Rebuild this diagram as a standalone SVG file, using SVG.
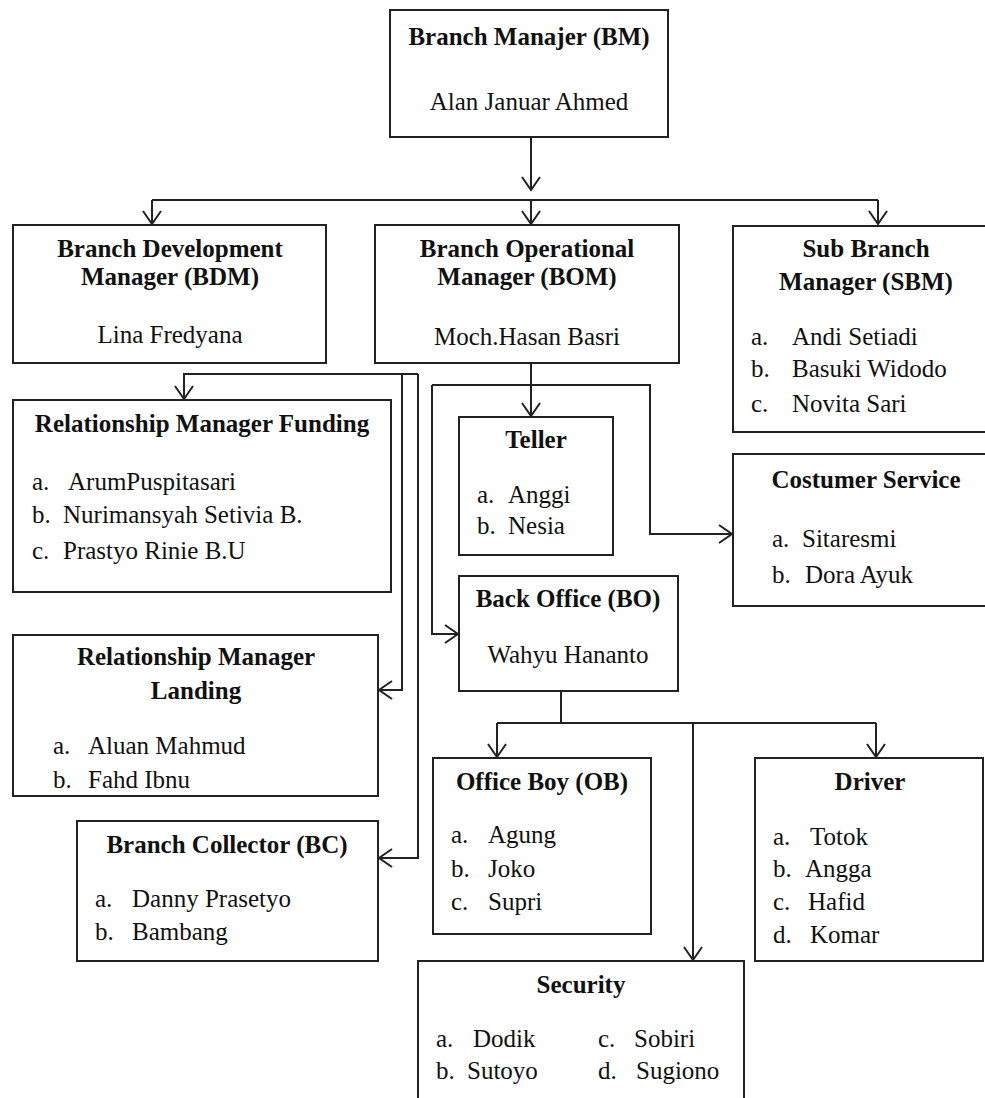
<svg xmlns="http://www.w3.org/2000/svg" width="985" height="1098" viewBox="0 0 985 1098">
<style>
.box{fill:#fff;stroke:#222;stroke-width:2}
.t{font-family:"Liberation Serif","Times New Roman",serif;font-size:25px;font-weight:bold;fill:#111;text-anchor:middle}
.n{font-family:"Liberation Serif","Times New Roman",serif;font-size:25px;fill:#111}
.c{text-anchor:middle}
.ln{fill:none;stroke:#222;stroke-width:2}
.ar{marker-end:url(#ah)}
</style>
<defs>
<marker id="ah" viewBox="-16 -11 18 22" markerWidth="18" markerHeight="22" refX="0" refY="0" orient="auto" markerUnits="userSpaceOnUse">
<path d="M-13,-9 L0,0 L-13,9" fill="none" stroke="#222" stroke-width="2"/>
</marker>
</defs>
<rect width="985" height="1098" fill="#fff"/>
<g id="connectors">
<path class="ln ar" d="M531,137 V190"/>
<path class="ln" d="M152,200 H878"/>
<path class="ln ar" d="M152,200 V224"/>
<path class="ln ar" d="M531,200 V224"/>
<path class="ln ar" d="M878,200 V224"/>
<path class="ln ar" d="M418,374 H184 V399"/>
<path class="ln ar" d="M418,374 V858 H379"/>
<path class="ln ar" d="M402,374 V690 H379"/>
<path class="ln ar" d="M531,363 V416"/>
<path class="ln ar" d="M432,385 H650 V534 H732"/>
<path class="ln ar" d="M432,385 V634 H458"/>
<path class="ln" d="M561,691 V723"/>
<path class="ln" d="M497,723 H876"/>
<path class="ln ar" d="M497,723 V757"/>
<path class="ln ar" d="M876,723 V757"/>
<path class="ln ar" d="M693,723 V960"/>
</g>
<g id="bm">
<rect class="box" x="390" y="10" width="278" height="127"/>
<text class="t" x="529" y="45">Branch Manajer (BM)</text>
<text class="n c" x="529" y="110">Alan Januar Ahmed</text>
</g>
<g id="bdm">
<rect class="box" x="13" y="225" width="313" height="138"/>
<text class="t" x="170" y="257">Branch Development</text>
<text class="t" x="170" y="285">Manager (BDM)</text>
<text class="n c" x="170" y="343">Lina Fredyana</text>
</g>
<g id="bom">
<rect class="box" x="375" y="225" width="304" height="138"/>
<text class="t" x="527" y="257">Branch Operational</text>
<text class="t" x="527" y="285">Manager (BOM)</text>
<text class="n c" x="527" y="345">Moch.Hasan Basri</text>
</g>
<g id="sbm">
<rect class="box" x="733" y="226" width="270" height="206"/>
<text class="t" x="866" y="257">Sub Branch</text>
<text class="t" x="866" y="290">Manager (SBM)</text>
<text class="n" x="751" y="345">a.</text><text class="n" x="792" y="345">Andi Setiadi</text>
<text class="n" x="751" y="377">b.</text><text class="n" x="792" y="377">Basuki Widodo</text>
<text class="n" x="751" y="412">c.</text><text class="n" x="792" y="412">Novita Sari</text>
</g>
<g id="rmf">
<rect class="box" x="13" y="400" width="378" height="192"/>
<text class="t" x="202" y="432">Relationship Manager Funding</text>
<text class="n" x="32" y="490">a.</text><text class="n" x="68" y="490">ArumPuspitasari</text>
<text class="n" x="32" y="523">b.</text><text class="n" x="63" y="523">Nurimansyah Setivia B.</text>
<text class="n" x="32" y="559">c.</text><text class="n" x="63" y="559">Prastyo Rinie B.U</text>
</g>
<g id="teller">
<rect class="box" x="459" y="417" width="154" height="138"/>
<text class="t" x="536" y="448">Teller</text>
<text class="n" x="477" y="503">a.</text><text class="n" x="508" y="503">Anggi</text>
<text class="n" x="477" y="534">b.</text><text class="n" x="508" y="534">Nesia</text>
</g>
<g id="cs">
<rect class="box" x="733" y="454" width="270" height="152"/>
<text class="t" x="866" y="488">Costumer Service</text>
<text class="n" x="772" y="547">a.</text><text class="n" x="802" y="547">Sitaresmi</text>
<text class="n" x="772" y="583">b.</text><text class="n" x="805" y="583">Dora Ayuk</text>
</g>
<g id="bo">
<rect class="box" x="459" y="576" width="219" height="115"/>
<text class="t" x="568" y="607">Back Office (BO)</text>
<text class="n c" x="568" y="663">Wahyu Hananto</text>
</g>
<g id="rml">
<rect class="box" x="13" y="635" width="365" height="161"/>
<text class="t" x="196" y="665">Relationship Manager</text>
<text class="t" x="196" y="699">Landing</text>
<text class="n" x="53" y="754">a.</text><text class="n" x="88" y="754">Aluan Mahmud</text>
<text class="n" x="53" y="788">b.</text><text class="n" x="88" y="788">Fahd Ibnu</text>
</g>
<g id="ob">
<rect class="box" x="433" y="758" width="218" height="176"/>
<text class="t" x="542" y="790">Office Boy (OB)</text>
<text class="n" x="451" y="843">a.</text><text class="n" x="488" y="843">Agung</text>
<text class="n" x="451" y="877">b.</text><text class="n" x="488" y="877">Joko</text>
<text class="n" x="451" y="910">c.</text><text class="n" x="488" y="910">Supri</text>
</g>
<g id="driver">
<rect class="box" x="755" y="758" width="228" height="203"/>
<text class="t" x="870" y="790">Driver</text>
<text class="n" x="773" y="845">a.</text><text class="n" x="810" y="845">Totok</text>
<text class="n" x="773" y="877">b.</text><text class="n" x="805" y="877">Angga</text>
<text class="n" x="773" y="910">c.</text><text class="n" x="808" y="910">Hafid</text>
<text class="n" x="773" y="943">d.</text><text class="n" x="810" y="943">Komar</text>
</g>
<g id="bc">
<rect class="box" x="77" y="821" width="301" height="140"/>
<text class="t" x="227" y="853">Branch Collector (BC)</text>
<text class="n" x="95" y="907">a.</text><text class="n" x="132" y="907">Danny Prasetyo</text>
<text class="n" x="95" y="940">b.</text><text class="n" x="132" y="940">Bambang</text>
</g>
<g id="security">
<rect class="box" x="418" y="961" width="326" height="150"/>
<text class="t" x="581" y="993">Security</text>
<text class="n" x="436" y="1047">a.</text><text class="n" x="473" y="1047">Dodik</text>
<text class="n" x="436" y="1079">b.</text><text class="n" x="467" y="1079">Sutoyo</text>
<text class="n" x="598" y="1047">c.</text><text class="n" x="634" y="1047">Sobiri</text>
<text class="n" x="598" y="1079">d.</text><text class="n" x="636" y="1079">Sugiono</text>
</g>
</svg>
